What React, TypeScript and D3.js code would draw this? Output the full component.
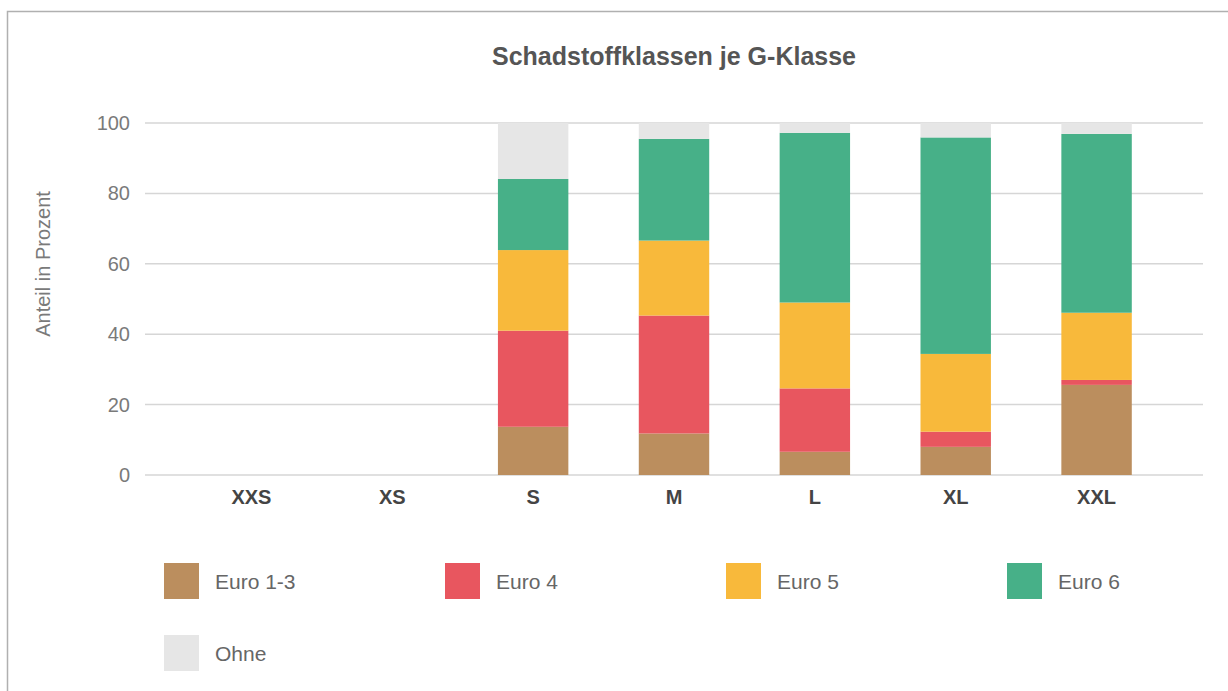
import React, { useEffect, useRef } from 'react';
import * as d3 from 'd3';

// G-Klassen on the x axis
const categories = ['XXS', 'XS', 'S', 'M', 'L', 'XL', 'XXL'];
const seriesNames = ['Euro 1-3', 'Euro 4', 'Euro 5', 'Euro 6', 'Ohne'];
const seriesColors = ['#bb8e5e', '#e8565f', '#f8b93b', '#47b088', '#e6e6e6'];

// share in percent per class (XXS and XS have no data)
const euro13 = [0, 0, 13.7, 11.8, 6.6, 8.0, 25.6];
const euro4 = [0, 0, 27.3, 33.5, 18.0, 4.3, 1.4];
const euro5 = [0, 0, 22.9, 21.3, 24.4, 22.1, 19.1];
const euro6 = [0, 0, 20.2, 28.9, 48.2, 61.5, 50.8];
const ohne = [0, 0, 15.9, 4.5, 2.8, 4.1, 3.1];

const yTicks = [0, 20, 40, 60, 80, 100];

const W = 1228;
const H = 691;
const FONT = '"Liberation Sans", Arial, Helvetica, sans-serif';

const App = () => {
    const ref = useRef<SVGSVGElement>(null);

    useEffect(() => {
        const svg = d3.select(ref.current);
        svg.selectAll('*').remove();

        // frame: top and left border only
        svg.append('path')
            .attr('d', `M7.5,${H} V11.5 H${W}`)
            .attr('fill', 'none')
            .attr('stroke', '#b0b0b0')
            .attr('stroke-width', 1.5);

        svg.append('text')
            .attr('x', 674)
            .attr('y', 56)
            .attr('text-anchor', 'middle')
            .attr('dominant-baseline', 'central')
            .style('font', `bold 25px ${FONT}`)
            .attr('fill', '#555')
            .text('Schadstoffklassen je G-Klasse');

        const x = d3.scaleBand().domain(categories).range([181, 1167]).paddingInner(0.5).paddingOuter(0.25);
        const y = d3.scaleLinear().domain([0, 100]).range([475, 123]);

        // grid + tick labels
        const grid = svg.append('g');
        grid.selectAll('line')
            .data(yTicks)
            .join('line')
            .attr('x1', 145)
            .attr('x2', 1203)
            .attr('y1', d => y(d))
            .attr('y2', d => y(d))
            .attr('stroke', '#d6d6d6')
            .attr('stroke-width', 1.5);
        grid.selectAll('text')
            .data(yTicks)
            .join('text')
            .attr('x', 130)
            .attr('y', d => y(d))
            .attr('text-anchor', 'end')
            .attr('dominant-baseline', 'central')
            .style('font', `20px ${FONT}`)
            .attr('fill', '#7a7a7a')
            .text(d => d);

        svg.append('text')
            .attr('transform', 'translate(43,264) rotate(-90)')
            .attr('text-anchor', 'middle')
            .attr('dominant-baseline', 'central')
            .style('font', `20px ${FONT}`)
            .attr('fill', '#7a7a7a')
            .text('Anteil in Prozent');

        // stacked bars
        const rows = categories.map((c, i) => ({
            cat: c,
            'Euro 1-3': euro13[i],
            'Euro 4': euro4[i],
            'Euro 5': euro5[i],
            'Euro 6': euro6[i],
            'Ohne': ohne[i],
        }));
        const stack = d3.stack<any>().keys(seriesNames)(rows);
        const color = d3.scaleOrdinal<string>().domain(seriesNames).range(seriesColors);

        svg.append('g')
            .selectAll('g')
            .data(stack)
            .join('g')
            .attr('fill', d => color(d.key))
            .selectAll('rect')
            .data(d => d)
            .join('rect')
            .attr('x', d => x(d.data.cat)!)
            .attr('width', x.bandwidth())
            .attr('y', d => y(d[1]))
            .attr('height', d => y(d[0]) - y(d[1]));

        // category labels
        svg.append('g')
            .selectAll('text')
            .data(categories)
            .join('text')
            .attr('x', d => x(d)! + x.bandwidth() / 2)
            .attr('y', 497)
            .attr('text-anchor', 'middle')
            .attr('dominant-baseline', 'central')
            .style('font', `bold 20px ${FONT}`)
            .attr('fill', '#444')
            .text(d => d);

        // legend, 4 per row
        const legend = svg.append('g')
            .selectAll('g')
            .data(seriesNames)
            .join('g')
            .attr('transform', (d, i) => `translate(${164 + (i % 4) * 281},${563 + Math.floor(i / 4) * 72})`);
        legend.append('rect')
            .attr('width', 35)
            .attr('height', 36)
            .attr('fill', d => color(d));
        legend.append('text')
            .attr('x', 51)
            .attr('y', 18)
            .attr('dominant-baseline', 'central')
            .style('font', `21px ${FONT}`)
            .attr('fill', '#666')
            .text(d => d);
    }, []);

    return (
        <svg
            ref={ref}
            width={W}
            height={H}
            style={{ position: 'absolute', left: 0, top: 0, background: '#fff' }}
        />
    );
};

export default App;
